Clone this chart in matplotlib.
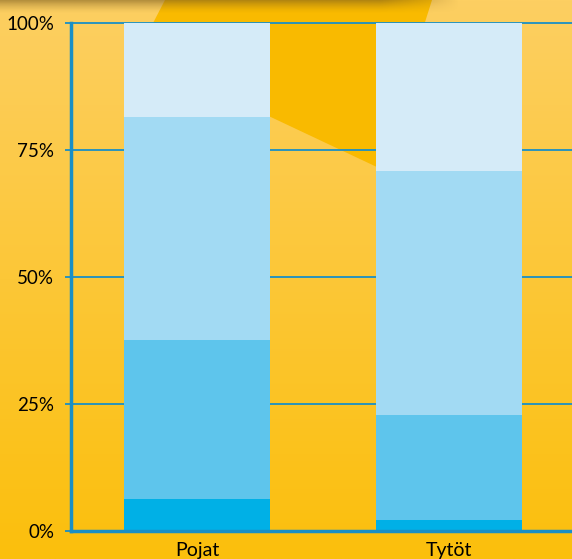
import numpy as np
import matplotlib
matplotlib.use("Agg")
import matplotlib.pyplot as plt
from matplotlib.patches import Polygon

plt.rcParams['font.family'] = ['Lato', 'DejaVu Sans']

# Data (percent shares per group, bottom to top)
groups = ["Pojat", "Tytöt"]
seg1 = [6.2, 2.1]
seg2 = [31.3, 20.7]
seg3 = [43.9, 48.0]
seg4 = [18.6, 29.2]
seg_colors = ["#00B0E6", "#5EC5EC", "#A2DAF3", "#D5EBF8"]
yticks = [0, 25, 50, 75, 100]

W, H = 572, 559
fig = plt.figure(figsize=(W / 100, H / 100), dpi=100)

# Background: yellow gradient + decorative darker shape + top shadow
bg = fig.add_axes([0, 0, 1, 1], zorder=0)
bg.axis("off")
top = np.array([253, 207, 98]) / 255
bot = np.array([251, 191, 12]) / 255
t = np.linspace(0, 1, 256)[:, None]
grad = top[None, None, :] * (1 - t[..., None]) + bot[None, None, :] * t[..., None]
grad = np.repeat(grad, 2, axis=1)
bg.imshow(grad, extent=[0, W, H, 0], aspect="auto", zorder=0)
bg.add_patch(Polygon([(165, 0), (432, 0), (379, 168), (137, 54)],
                     closed=True, facecolor="#F9BA00", edgecolor="none", zorder=1))
# top shadow
sh = np.zeros((40, 200, 4))
sh[..., :3] = np.array([120, 90, 30]) / 255
vy = np.clip(1 - np.linspace(0, 1, 40) / 0.45, 0, 1)[:, None] ** 1.5
hx = np.clip((460 - np.linspace(0, W, 200)) / 80, 0, 1)[None, :]
sh[..., 3] = 0.55 * vy * hx
bg.imshow(sh, extent=[0, W, 30, 0], aspect="auto", zorder=2)
bg.set_xlim(0, W)
bg.set_ylim(H, 0)

# Main chart
ax = fig.add_axes([71 / W, (H - 531) / H, 1 - 71 / W, (531 - 22.5) / H], zorder=1)
ax.patch.set_alpha(0)

x = np.arange(len(groups))
bottom = np.zeros(len(groups))
for vals, c in zip([seg1, seg2, seg3, seg4], seg_colors):
    ax.bar(x, vals, width=0.58, bottom=bottom, color=c, zorder=3)
    bottom += np.array(vals)

ax.set_xlim(-0.5, 1.488)
ax.set_ylim(0, 100)
ax.set_yticks(yticks)
ax.set_yticklabels([f"{v}%" for v in yticks], fontsize=13.5)
ax.set_xticks(x)
ax.set_xticklabels(groups, fontsize=14)

blue = "#1A8FC6"
ax.yaxis.grid(True, color=blue, linewidth=1.3, zorder=1)
for gl in ax.get_ygridlines():
    gl.set_clip_on(False)
ax.set_axisbelow(True)
for s in ["top", "right"]:
    ax.spines[s].set_visible(False)
ax.spines["left"].set_color(blue)
ax.spines["left"].set_linewidth(2.5)
ax.spines["bottom"].set_color(blue)
ax.spines["bottom"].set_linewidth(2.5)
ax.spines["bottom"].set_zorder(4)
ax.tick_params(axis="y", colors=blue, length=4, width=1.3, pad=8, labelcolor="black")
ax.tick_params(axis="x", length=0, pad=8, labelcolor="black")

fig.savefig("out.png", dpi=100)
